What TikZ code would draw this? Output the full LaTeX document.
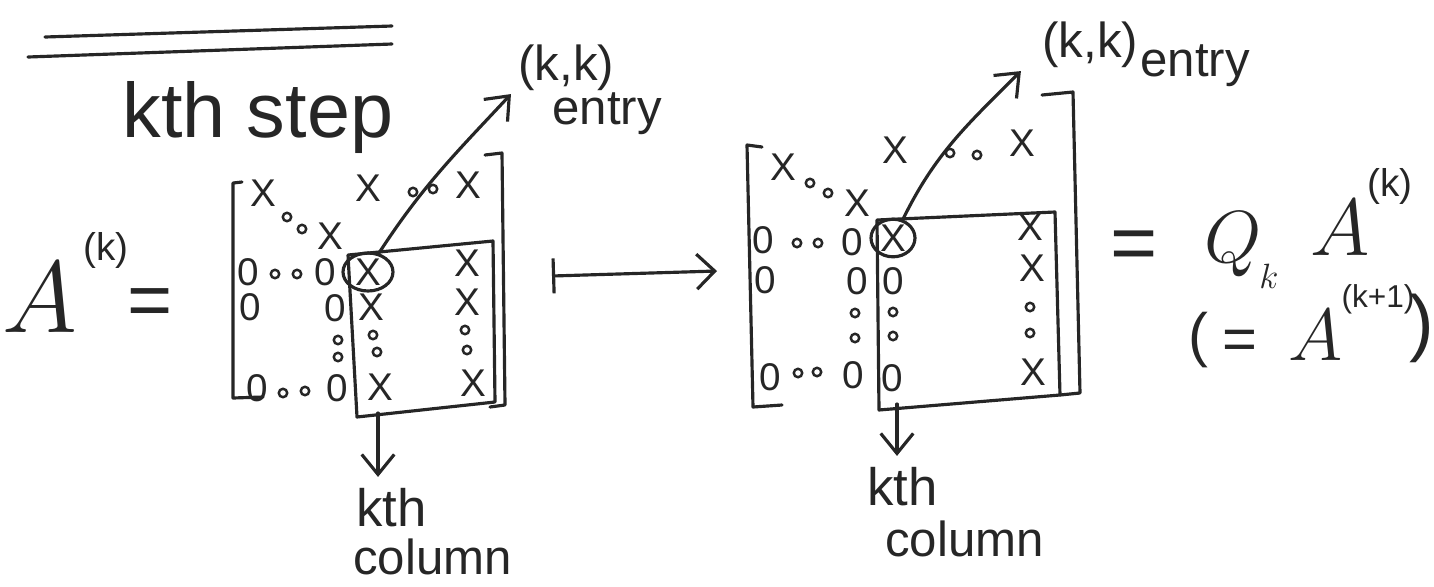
\RequirePackage{fix-cm}
\documentclass[tikz,border=0pt]{standalone}
\usepackage{fontspec}
\setmainfont{Liberation Sans}
\usetikzlibrary{arrows.meta,shapes.geometric}
\definecolor{ink}{HTML}{262626}
\tikzset{
  hand/.style={draw=ink,line width=1.8pt,line cap=round,line join=round},
  pick/.style={hand,-{Straight Barb[length=4mm,width=6.5mm]}},
  mapsto/.style={hand,{Bar[width=7mm]}-{Straight Barb[length=3.6mm,width=7mm]}},
  ent/.style={inner sep=0pt,text=ink,font=\fontsize{22}{24}\selectfont},
  ring/.style={ent,ellipse,draw=ink,line width=1.8pt},
  lab/.style={inner sep=0pt,text=ink,anchor=base west,font=\fontsize{28}{30}\selectfont},
  speck/.style={draw=ink,line width=1.4pt}
}

\begin{document}
\begin{tikzpicture}[x=0.02cm,y=-0.02cm]
  \useasboundingbox (0,0) rectangle (1434,586);
  % heading underline
  \draw[hand] (45,37) -- (392,26);
  \draw[hand] (28,57) -- (392,44);
  \node[lab,font=\fontsize{44}{48}\selectfont] (title) at (122,137) {kth step};

  % A^(k) =
  \node[lab,font=\fontsize{58}{64}\selectfont] (Ak) at (2,332) {$A$};
  \node[ent] (Aksup) at (106,250) {(k)};
  \node[ent,font=\fontsize{44}{48}\selectfont] (eqL) at (150,308) {=};

  % left matrix
  \draw[hand] (242,182) -- (233,183) -- (233,398) -- (263,397);
  \draw[hand] (485,155) -- (502,153) -- (505,405) -- (490,407);
  \node[ent] (a11) at (263,193) {X};
  \node[ent] (a1k) at (368,188) {X};
  \node[ent] (a1n) at (468,185) {X};
  \node[ent] (akk) at (330,236) {X};
  \node[ent] (z21) at (248,272) {0};
  \node[ent] (z2k) at (325,272) {0};
  \node[ring,minimum width=1.0cm,minimum height=0.76cm] (ringL) at (368,272) {X};
  \node[ent] (x2n) at (467,263) {X};
  \node[ent] (z31) at (250,307) {0};
  \node[ent] (z3k) at (335,308) {0};
  \node[ent] (x3k) at (371,307) {X};
  \node[ent] (x3n) at (467,302) {X};
  \node[ent] (z41) at (257,388) {0};
  \node[ent] (z4k) at (337,388) {0};
  \node[ent] (x4k) at (380,387) {X};
  \node[ent] (x4n) at (473,383) {X};
  \foreach \p in {(287,217),(302,229),(413,192),(433,189),(275,274),(297,274),
                  (338,340),(338,357),(373,335),(377,352),(465,330),(467,350),
                  (283,393),(305,391)}
    \draw[speck] \p circle[radius=2.4pt];
  \draw[hand] (348,255) -- (493,241) -- (495,402) -- (357,417) -- cycle;
  \coordinate (colL) at (378,413);

  \node[lab] (kkL) at (518,80) {(k,k)};
  \node[lab] (entL) at (552,124) {entry};
  \draw[pick] (ringL.60) to[out=57,in=227] ([xshift=-4pt,yshift=-2pt]kkL.south west);
  \node[lab,font=\fontsize{30}{32}\selectfont] (kthL) at (356,526) {kth};
  \node[lab] (columnL) at (353,574) {column};
  \draw[pick] (colL) -- ([yshift=6pt]kthL.north -| colL);

  % maps to
  \coordinate (mapL) at (552,276);
  \coordinate (mapR) at (717,271);
  \draw[mapsto] (mapL) -- (mapR);

  % right matrix
  \draw[hand] (762,147) -- (747,145) -- (753,407) -- (782,405);
  \draw[hand] (1042,95) -- (1073,92) -- (1080,393) -- (1060,395);
  \node[ent] (b11) at (783,167) {X};
  \node[ent] (b1k) at (895,150) {X};
  \node[ent] (b1n) at (1022,143) {X};
  \node[ent] (bkk) at (857,203) {X};
  \node[ent] (y21) at (763,240) {0};
  \node[ent] (y2k) at (852,242) {0};
  \node[ring,minimum width=0.88cm,minimum height=0.68cm] (ringR) at (893,238) {X};
  \node[ent] (w2n) at (1030,227) {X};
  \node[ent] (y31) at (765,280) {0};
  \node[ent] (y3k) at (857,281) {0};
  \node[ent] (y3c) at (893,281) {0};
  \node[ent] (w3n) at (1032,268) {X};
  \node[ent] (y41) at (770,377) {0};
  \node[ent] (y4k) at (853,375) {0};
  \node[ent] (y4c) at (892,378) {0};
  \node[ent] (w4n) at (1033,372) {X};
  \foreach \p in {(810,183),(828,193),(950,153),(977,155),(797,243),(818,243),
                  (855,313),(855,338),(893,312),(893,336),(1030,307),(1030,333),
                  (798,373),(817,372)}
    \draw[speck] \p circle[radius=2.4pt];
  \draw[hand] (877,220) -- (1055,212) -- (1060,395) -- (879,410) -- cycle;
  \coordinate (colR) at (897,404);

  \node[lab] (kkR) at (1042,57) {(k,k)};
  \node[lab] (entR) at (1140,76) {entry};
  \draw[pick] (ringR.62) to[out=64,in=225] ([xshift=-12pt,yshift=-2pt]kkR.south west);
  \node[lab,font=\fontsize{30}{32}\selectfont] (kthR) at (867,505) {kth};
  \node[lab] (columnR) at (885,556) {column};
  \draw[pick] (colR) -- ([yshift=6pt]kthR.north -| colR);

  % = Q_k A^(k)  (= A^(k+1))
  \node[ent,font=\fontsize{46}{50}\selectfont] (eqR) at (1134,251) {=};
  \node[lab,font=\fontsize{42}{46}\selectfont] (Q) at (1204,262) {$Q$};
  \node[lab,font=\fontsize{20}{22}\selectfont] (Qsub) at (1259,288) {$k$};
  \node[lab,font=\fontsize{46}{50}\selectfont] (A2) at (1310,255) {$A$};
  \node[ent] (A2sup) at (1390,186) {(k)};
  \node[ent,font=\fontsize{34}{38}\selectfont] (lpar) at (1198,340) {(};
  \node[ent,font=\fontsize{34}{38}\selectfont] (eq2) at (1240,345) {=};
  \node[lab,font=\fontsize{42}{46}\selectfont] (A3) at (1288,360) {$A$};
  \node[ent,font=\fontsize{18}{20}\selectfont] (A3sup) at (1378,299) {(k+1)};
  \node[ent,font=\fontsize{42}{46}\selectfont] (rpar) at (1422,328) {)};
\end{tikzpicture}
\end{document}
